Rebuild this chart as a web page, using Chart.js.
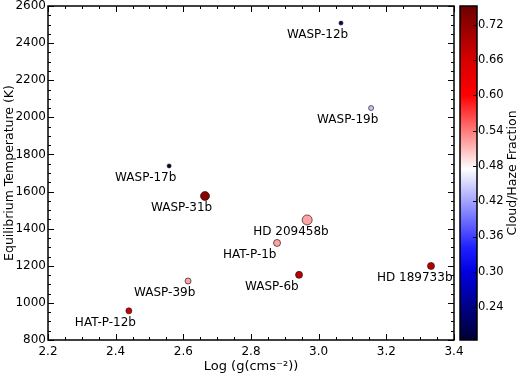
<!DOCTYPE html>
<html>
<head>
<meta charset="utf-8">
<script src="https://cdn.jsdelivr.net/npm/chart.js@4.4.1/dist/chart.umd.min.js"></script>
<style>
  html, body { margin: 0; padding: 0; background: #fff; }
  #wrap { width: 520px; height: 376px; }
</style>
</head>
<body>
<div id="wrap"><canvas id="chart" width="520" height="376"></canvas></div>
<script>
const planets = ["WASP-12b", "WASP-19b", "WASP-17b", "WASP-31b", "HD 209458b", "HAT-P-1b", "WASP-6b", "HD 189733b", "WASP-39b", "HAT-P-12b"];
const logG = [3.066, 3.155, 2.558, 2.664, 2.966, 2.877, 2.942, 3.332, 2.614, 2.439];
const tEq = [2508, 2050, 1738, 1576, 1447, 1323, 1151, 1199, 1118, 957];
const hazeFrac = [0.23, 0.44, 0.19, 0.73, 0.52, 0.52, 0.69, 0.69, 0.52, 0.67];
const markerSize = [2, 2.5, 2, 4.5, 5, 3.5, 3.5, 3.5, 3, 3];

const xTicks = [2.2, 2.4, 2.6, 2.8, 3.0, 3.2, 3.4];
const yTicks = [800, 1000, 1200, 1400, 1600, 1800, 2000, 2200, 2400, 2600];
const fracTicks = [0.24, 0.30, 0.36, 0.42, 0.48, 0.54, 0.60, 0.66, 0.72];
const fracMin = 0.184, fracMax = 0.752;

// blue-white-red colour table
const cmapStops = [
    [0.184, [0, 0, 50]],
    [0.30, [0, 0, 225]],
    [0.34, [30, 30, 255]],
    [0.475, [255, 255, 255]],
    [0.60, [255, 0, 0]],
    [0.66, [215, 0, 0]],
    [0.752, [110, 0, 0]]
];

function fracColor(v) {
    if (v <= cmapStops[0][0]) return 'rgb(' + cmapStops[0][1].join(',') + ')';
    for (let i = 1; i < cmapStops.length; i++) {
        const a = cmapStops[i - 1], b = cmapStops[i];
        if (v <= b[0]) {
            const t = (v - a[0]) / (b[0] - a[0]);
            const c = a[1].map((ch, k) => Math.round(ch + (b[1][k] - ch) * t));
            return 'rgb(' + c.join(',') + ')';
        }
    }
    return 'rgb(' + cmapStops[cmapStops.length - 1][1].join(',') + ')';
}

const FONT = "'DejaVu Sans', sans-serif";

function noPad(s) { s.paddingTop = 0; s.paddingBottom = 0; s.paddingLeft = 0; s.paddingRight = 0; }

const framePlugin = {
    id: 'frame',
    afterDatasetsDraw(chart) {
        const ctx = chart.ctx, a = chart.chartArea;
        const xs = chart.scales.x, ys = chart.scales.y, cs = chart.scales.y2;
        ctx.save();

        // point labels
        ctx.fillStyle = '#000';
        ctx.font = '12px ' + FONT;
        ctx.textAlign = 'left';
        ctx.textBaseline = 'middle';
        planets.forEach((p, i) => {
            ctx.fillText(p, xs.getPixelForValue(logG[i]) - 54, ys.getPixelForValue(tEq[i]) + 12);
        });

        // box + inward ticks
        ctx.strokeStyle = '#000';
        ctx.lineWidth = 1.5;
        ctx.strokeRect(a.left, a.top, a.right - a.left, a.bottom - a.top);
        ctx.lineWidth = 1;
        ctx.beginPath();
        for (let v = 2.2; v <= 3.4001; v += 0.05) {
            const px = Math.round(xs.getPixelForValue(v)) + 0.5;
            const major = Math.abs(v * 5 - Math.round(v * 5)) < 1e-6;
            const len = major ? 6 : 3;
            ctx.moveTo(px, a.bottom); ctx.lineTo(px, a.bottom - len);
            ctx.moveTo(px, a.top); ctx.lineTo(px, a.top + len);
        }
        for (let v = 800; v <= 2600; v += 50) {
            const py = Math.round(ys.getPixelForValue(v)) + 0.5;
            const len = v % 200 === 0 ? 6 : 3;
            ctx.moveTo(a.left, py); ctx.lineTo(a.left + len, py);
            ctx.moveTo(a.right, py); ctx.lineTo(a.right - len, py);
        }
        ctx.stroke();

        // colour bar
        const cbL = a.right + 6, cbR = a.right + 23;
        const top = cs.getPixelForValue(fracMax), bot = cs.getPixelForValue(fracMin);
        const grad = ctx.createLinearGradient(0, bot, 0, top);
        cmapStops.forEach(s => grad.addColorStop((s[0] - fracMin) / (fracMax - fracMin), 'rgb(' + s[1].join(',') + ')'));
        ctx.fillStyle = grad;
        ctx.fillRect(cbL, top, cbR - cbL, bot - top);
        ctx.lineWidth = 1.5;
        ctx.strokeRect(cbL, top, cbR - cbL, bot - top);
        ctx.lineWidth = 1;
        ctx.beginPath();
        fracTicks.forEach(v => {
            const py = Math.round(cs.getPixelForValue(v)) + 0.5;
            ctx.moveTo(cbR, py); ctx.lineTo(cbR - 4, py);
        });
        ctx.stroke();

        // colour bar title
        ctx.fillStyle = '#000';
        ctx.font = '12.5px ' + FONT;
        ctx.textAlign = 'center';
        ctx.textBaseline = 'middle';
        ctx.translate(513, (a.top + a.bottom) / 2);
        ctx.rotate(-Math.PI / 2);
        ctx.fillText('Cloud/Haze Fraction', 0, 0);
        ctx.restore();
    }
};

new Chart(document.getElementById('chart').getContext('2d'), {
    type: 'scatter',
    data: {
        datasets: [{
            data: planets.map((p, i) => ({ x: logG[i], y: tEq[i] })),
            pointRadius: markerSize,
            pointHoverRadius: markerSize,
            pointBackgroundColor: hazeFrac.map(fracColor),
            pointBorderColor: 'rgba(40,20,20,0.85)',
            pointBorderWidth: 0.8
        }]
    },
    options: {
        responsive: false,
        animation: false,
        events: [],
        layout: { padding: { top: 6, left: 0, right: 0, bottom: 0 } },
        plugins: { legend: { display: false }, tooltip: { enabled: false } },
        scales: {
            x: {
                type: 'linear', min: 2.2, max: 3.4,
                afterBuildTicks: s => { s.ticks = xTicks.map(v => ({ value: v })); },
                afterFit: s => { s.height = 36; noPad(s); },
                grid: { display: false, drawTicks: false },
                border: { display: false },
                ticks: { color: '#000', font: { family: FONT, size: 12 }, padding: 5, maxRotation: 0,
                    callback: v => v.toFixed(1) },
                title: { display: true, text: 'Log (g(cms⁻²))', color: '#000', font: { family: FONT, size: 13 }, padding: { top: 0, bottom: 2 } }
            },
            y: {
                type: 'linear', min: 800, max: 2600,
                afterBuildTicks: s => { s.ticks = yTicks.map(v => ({ value: v })); },
                afterFit: s => { s.width = 48; noPad(s); },
                grid: { display: false, drawTicks: false },
                border: { display: false },
                ticks: { color: '#000', font: { family: FONT, size: 12 }, padding: 2,
                    callback: v => String(v) },
                title: { display: true, text: 'Equilibrium Temperature (K)', color: '#000', font: { family: FONT, size: 12.5 }, padding: { top: 2, bottom: 0 } }
            },
            y2: {
                type: 'linear', position: 'right', min: fracMin, max: fracMax,
                afterBuildTicks: s => { s.ticks = fracTicks.map(v => ({ value: v })); },
                afterFit: s => { s.width = 66; noPad(s); },
                grid: { display: false, drawTicks: false },
                border: { display: false },
                ticks: { color: '#000', font: { family: FONT, size: 11.5 }, padding: 24,
                    callback: v => v.toFixed(2) }
            }
        }
    },
    plugins: [framePlugin]
});
</script>
</body>
</html>
